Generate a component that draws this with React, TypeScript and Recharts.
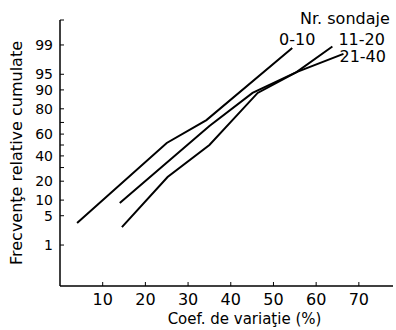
import React from 'react';
import { LineChart, Line, XAxis, YAxis, Label } from 'recharts';

// values
const xTicks = [10, 20, 30, 40, 50, 60, 70];
const yTickPercents = [1, 5, 10, 20, 30, 40, 50, 60, 70, 80, 90, 95, 99];
const yLabeled = [1, 5, 10, 20, 40, 60, 80, 90, 95, 99];

const coef0_10 = [4, 25, 34.3, 54.4];
const freq0_10 = [3.5, 51.9, 71.9, 98.8];
const coef11_20 = [14, 35, 45.1, 55.4, 63.8];
const freq11_20 = [8.9, 67.1, 88.7, 95.5, 98.9];
const coef21_40 = [14.5, 25.2, 35, 46.3, 55.4, 66.4];
const freq21_40 = [2.8, 22.8, 50, 88.7, 95.5, 98.3];

// inverse normal cdf (Acklam) - gives the probability-paper axis
function probit(p: number): number {
  const a = [-39.69683028665376, 220.9460984245205, -275.9285104469687, 138.357751867269, -30.66479806614716, 2.506628277459239];
  const b = [-54.47609879822406, 161.5858368580409, -155.6989798598866, 66.80131188771972, -13.28068155288572];
  const c = [-0.007784894002430293, -0.3223964580411365, -2.400758277161838, -2.549732539343734, 4.374664141464968, 2.938163982698783];
  const d = [0.007784695709041462, 0.3224671290700398, 2.445134137142996, 3.754408661907416];
  const pl = 0.02425;
  if (p < pl) {
    const q = Math.sqrt(-2 * Math.log(p));
    return (((((c[0] * q + c[1]) * q + c[2]) * q + c[3]) * q + c[4]) * q + c[5]) / ((((d[0] * q + d[1]) * q + d[2]) * q + d[3]) * q + 1);
  }
  if (p > 1 - pl) {
    const q = Math.sqrt(-2 * Math.log(1 - p));
    return -(((((c[0] * q + c[1]) * q + c[2]) * q + c[3]) * q + c[4]) * q + c[5]) / ((((d[0] * q + d[1]) * q + d[2]) * q + d[3]) * q + 1);
  }
  const q = p - 0.5;
  const r = q * q;
  return ((((((a[0] * r + a[1]) * r + a[2]) * r + a[3]) * r + a[4]) * r + a[5]) * q) / (((((b[0] * r + b[1]) * r + b[2]) * r + b[3]) * r + b[4]) * r + 1);
}

const build = (xs: number[], ps: number[]) => xs.map((x, i) => ({ x, z: probit(ps[i] / 100) }));

const series = [
  { name: '0-10', data: build(coef0_10, freq0_10), dx: 5, dy: -3, anchor: 'middle' },
  { name: '11-20', data: build(coef11_20, freq11_20), dx: 6, dy: -2, anchor: 'start' },
  { name: '21-40', data: build(coef21_40, freq21_40), dx: -4, dy: 8, anchor: 'start' },
];

const Y_MIN = -3.279;
const Y_MAX = 2.907;
const yTicks = [...yTickPercents.map((p) => probit(p / 100)), Y_MAX];

const yLabel = (v: number) => {
  const p = yTickPercents.find((t) => Math.abs(probit(t / 100) - v) < 1e-9);
  return p !== undefined && yLabeled.includes(p) ? String(p) : '';
};

const App: React.FC = () => {
  return (
    <div style={{ position: 'absolute', left: 0, top: 0, width: 396, height: 330, background: '#fff', fontFamily: 'DejaVu Sans' }}>
      <LineChart width={396} height={330} margin={{ top: 20, right: 3, bottom: 0, left: 0 }}>
        <XAxis
          type="number"
          dataKey="x"
          domain={[0, 78]}
          ticks={xTicks}
          interval={0}
          height={44}
          tickSize={-4}
          tickMargin={12}
          tick={{ fill: '#000', fontSize: 16 }}
          axisLine={{ stroke: '#000', strokeWidth: 1.5 }}
          tickLine={{ stroke: '#000' }}
        >
          <Label value="Coef. de variaţie (%)" position="insideBottom" offset={6} dx={18} fill="#000" fontSize={15} />
        </XAxis>
        <YAxis
          type="number"
          dataKey="z"
          domain={[Y_MIN, Y_MAX]}
          ticks={yTicks}
          interval={0}
          width={60}
          tickSize={-4}
          tickMargin={11}
          tickFormatter={yLabel}
          tick={{ fill: '#000', fontSize: 14 }}
          axisLine={{ stroke: '#000', strokeWidth: 1.5 }}
          tickLine={{ stroke: '#000' }}
        >
          <Label value="Frecvenţe relative cumulate" angle={-90} position="insideLeft" offset={16} fill="#000" fontSize={16} style={{ textAnchor: 'middle' }} />
        </YAxis>
        {series.map((s) => (
          <Line
            key={s.name}
            data={s.data}
            dataKey="z"
            type="linear"
            stroke="#000"
            strokeWidth={2}
            dot={false}
            isAnimationActive={false}
            label={(props: any) =>
              props.index === s.data.length - 1 ? (
                <text x={props.x + s.dx} y={props.y + s.dy} fill="#000" fontSize={16} textAnchor={s.anchor}>
                  {s.name}
                </text>
              ) : (
                <g />
              )
            }
          />
        ))}
      </LineChart>
      <div style={{ position: 'absolute', left: 300, top: 9, fontSize: 16, color: '#000' }}>Nr. sondaje</div>
    </div>
  );
};

export default App;
